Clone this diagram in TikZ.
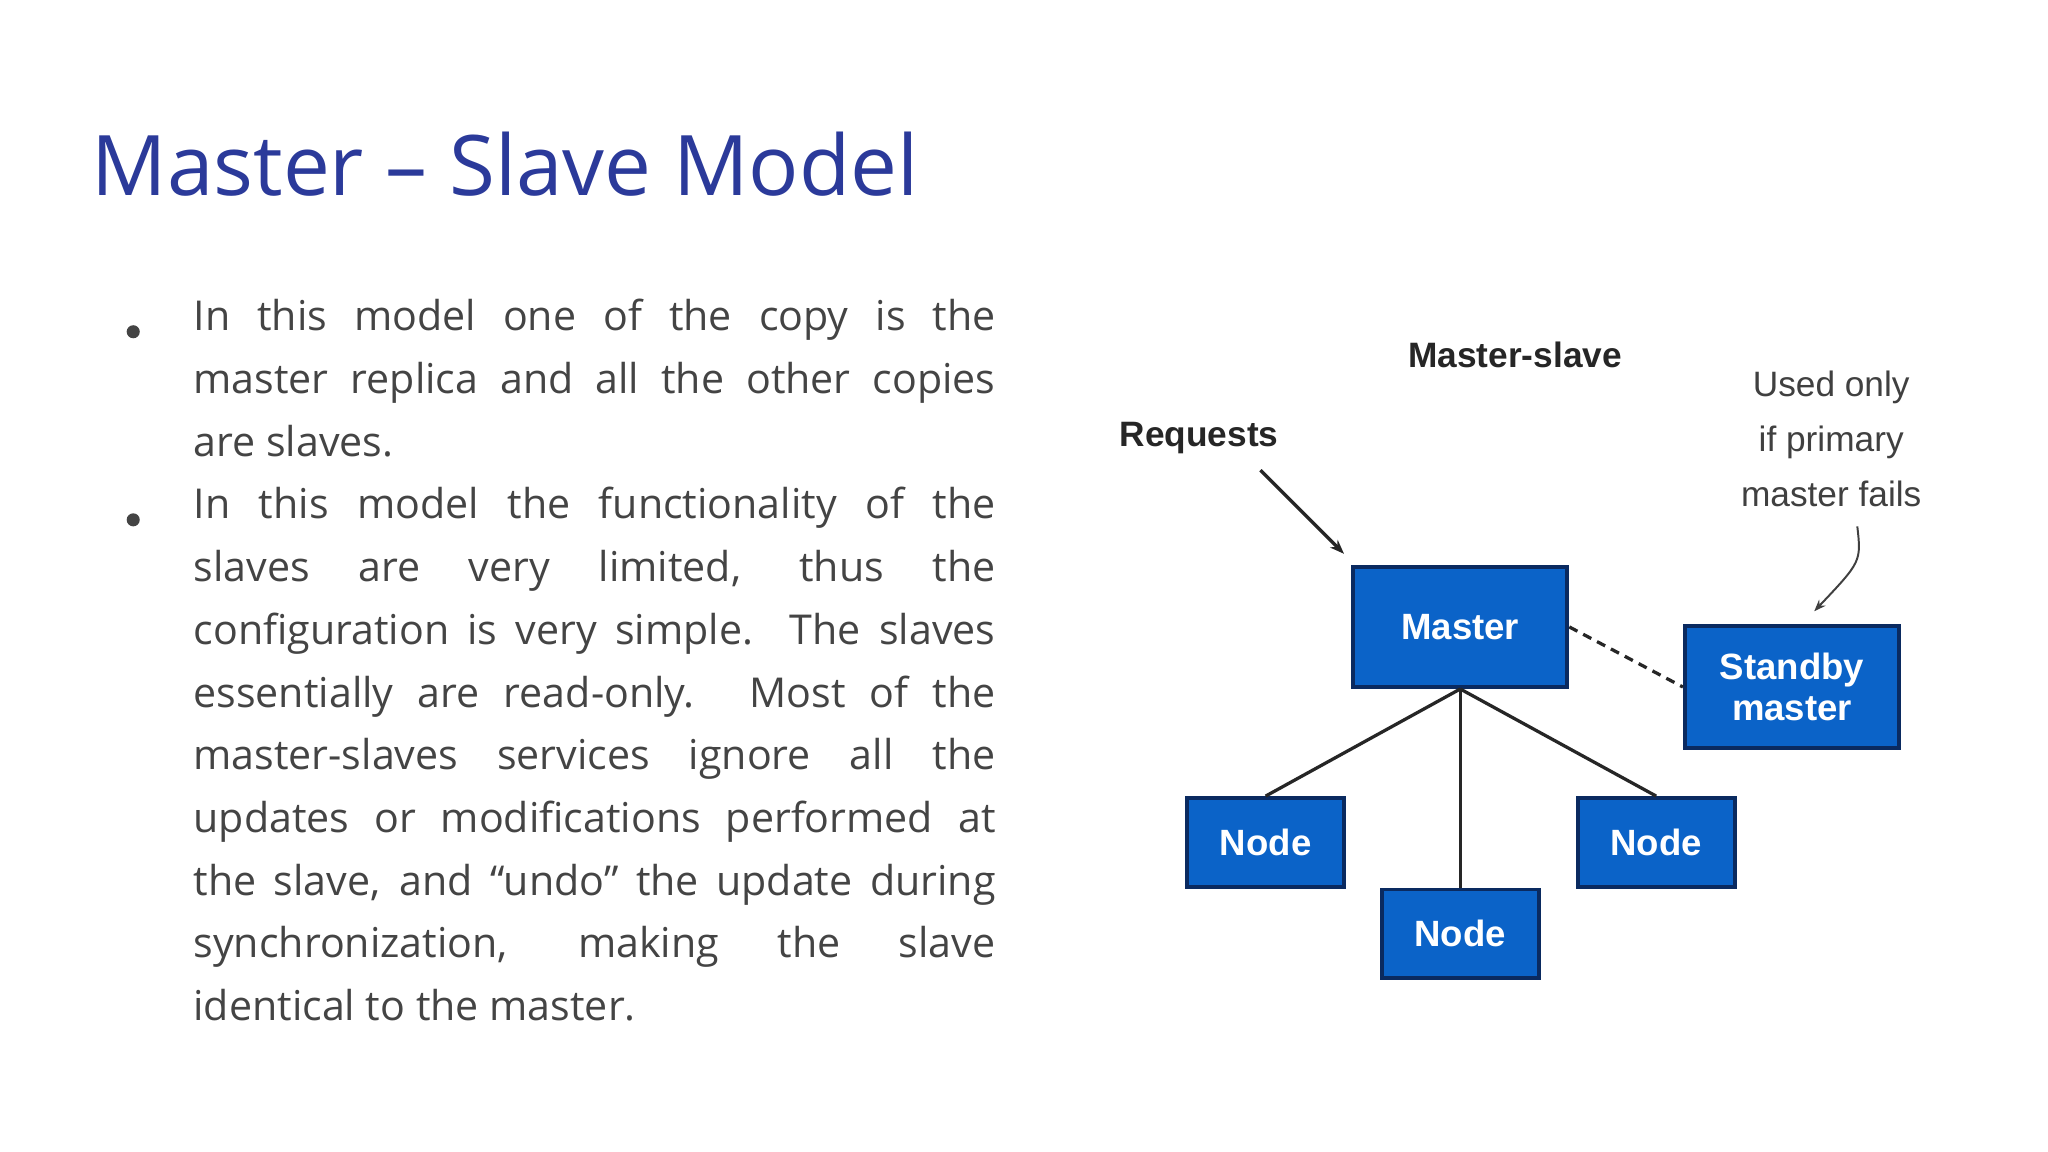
\documentclass[tikz,border=0pt]{standalone}
\usepackage{fontspec}
\setmainfont{Open Sans}
\newfontfamily\robo{Liberation Sans}
\usetikzlibrary{arrows.meta}
\definecolor{ttl}{HTML}{2B3A9A}
\definecolor{bodyc}{HTML}{444444}
\definecolor{boxc}{HTML}{0B63C8}
\definecolor{boxd}{HTML}{0A2A60}
\newcommand{\jline}[1]{\makebox[614pt][s]{#1}\\}
\newcommand{\lline}[1]{\makebox[614pt][l]{#1}\\}
\tikzset{
 box/.style={draw=boxd,line width=3pt,fill=boxc,text=white,font=\robo\bfseries\fontsize{28}{31}\selectfont,align=center,inner sep=0pt},
 lbl/.style={text=black!85,font=\robo\bfseries\fontsize{27}{42}\selectfont,align=center},
 note/.style={text=black!75,font=\robo\fontsize{27}{42}\selectfont,align=center},
 conn/.style={line width=2.5pt,black!85},
}
\begin{document}
\begin{tikzpicture}[x=1pt,y=-1pt]
\useasboundingbox[fill=white] (0,0) rectangle (1568,882);
\node[anchor=base west,text=ttl,font=\fontsize{64}{70}\selectfont,inner sep=0pt] (title) at (70,150) {Master – Slave Model};
\node[anchor=north west,align=left,inner sep=0pt,text=bodyc,font=\fontsize{31.5}{48}\selectfont] (body) at (148,229)
{\jline{In this model one of the copy is the}
\jline{master replica and all the other copies}
\lline{are slaves.}
\jline{In this model the functionality of the}
\jline{slaves are very limited, thus the}
\jline{configuration is very simple. The slaves}
\jline{essentially are read-only. Most of the}
\jline{master-slaves services ignore all the}
\jline{updates or modifications performed at}
\jline{the slave, and “undo” the update during}
\jline{synchronization, making the slave}
\lline{identical to the master.}};
\fill[bodyc] (102,254) circle (5) (102,398) circle (5);
% diagram
\node[box,minimum width=164,minimum height=92] (m) at (1118,480) {Master};
\node[box,minimum width=164,minimum height=93] (s) at (1372,526) {Standby\\master};
\node[box,minimum width=120,minimum height=68] (n1) at (969,645) {Node};
\node[box,minimum width=120,minimum height=68] (n2) at (1268,645) {Node};
\node[box,minimum width=120,minimum height=68] (n3) at (1118,715) {Node};
\draw[conn] (m.south) -- (n1.north);
\draw[conn] (m.south) -- (n2.north);
\draw[conn] (m.south) -- (n3.north);
\draw[conn,dashed,dash pattern=on 7pt off 5pt] (m.east) -- (s.west);
\node[lbl] (ms) at (1160,272) {Master-slave};
\node[lbl] (rq) at (918,335) {Requests};
\coordinate (rqe) at (1029,424);
\draw[conn,-{Stealth[length=11pt]}] (965,360) -- (rqe);
\node[note] (uo) at (1402,336) {Used only\\if primary\\master fails};
\coordinate (ue) at (1389,468);
\draw[line width=1.5pt,black!75,-{Stealth[length=9pt]}] (1422,403) .. controls (1425,430) .. (ue);
\end{tikzpicture}
\end{document}
